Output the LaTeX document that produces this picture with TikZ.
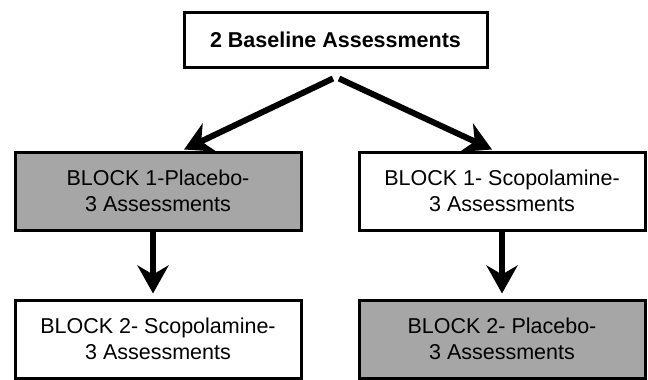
\documentclass[tikz,border=0pt]{standalone}
\usepackage{fontspec}
\setmainfont{Liberation Sans}
\usetikzlibrary{arrows.meta,calc}
\begin{document}
\begin{tikzpicture}[x=1pt,y=-1pt,
  box/.style={draw=black,line width=3pt,minimum width=286pt,minimum height=78pt,
    align=center,font=\fontsize{21.5}{26}\selectfont,inner sep=0pt},
  graybox/.style={box,fill=black!35},
  arr/.style={line width=6pt,-{Stealth[length=28pt,width=31pt,inset=9pt]}}]
\useasboundingbox (0,0) rectangle (648,380);
\node[box,minimum width=303pt,minimum height=55pt,font=\fontsize{21.5}{26}\selectfont\bfseries] (top) at (335.5,39.5) {2 Baseline Assessments};
\node[graybox] (l1) at (158,191) {BLOCK 1-Placebo-\\3 Assessments};
\node[box] (r1) at (502,191) {BLOCK 1- Scopolamine-\\3 Assessments};
\node[box] (l2) at (158,339) {BLOCK 2- Scopolamine-\\3 Assessments};
\node[graybox] (r2) at (502,339) {BLOCK 2- Placebo-\\3 Assessments};
\coordinate (sl) at ($(top.south)+(-2.5,10)$);
\coordinate (sr) at ($(top.south)+(3.5,10)$);
\coordinate (el) at ($(l1.north)+(26,-1)$);
\coordinate (er) at ($(r1.north)+(-10,-1)$);
\draw[arr] (sl) -- (el);
\draw[arr] (sr) -- (er);
\draw[arr,shorten >=5pt] ($(l1.south)+(-5,0)$) -- ($(l2.north)+(-5,0)$);
\draw[arr,shorten >=5pt] (r1.south) -- (r2.north);
\end{tikzpicture}
\end{document}
